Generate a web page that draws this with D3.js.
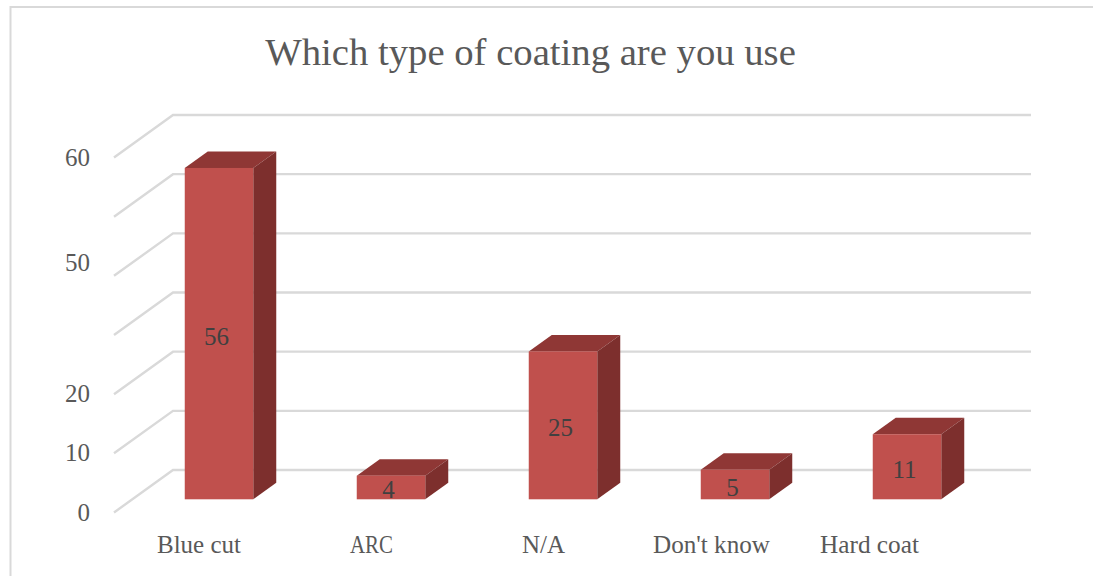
<!DOCTYPE html>
<html>
<head>
<meta charset="utf-8">
<script src="https://d3js.org/d3.v7.min.js"></script>
<style>
html,body{margin:0;padding:0;background:#fff;overflow:hidden}
text{font-family:"Liberation Serif",serif}
</style>
</head>
<body>
<script>
// Survey responses per coating type
const categories = ["Blue cut", "ARC", "N/A", "Don't know", "Hard coat"];
const counts = [56, 4, 25, 5, 11];
const gridValues = [0, 10, 20, 30, 40, 50, 60];
const axisLabels = ["60", "50", "20", "10", "0"];
const axisLabelLevels = [60, 42.2, 20, 10, 0];
const categoryLabelShift = [-1, -0.5, -0.5, -4.5, -18.5];
const categoryLabelWidth = [84, 43, 43, 117, 99];

const width = 1093, height = 576;
const depthX = 59, depthY = 42.5;       // floor depth of the 3D box
const barDepthX = 23, barDepthY = 16.5; // depth of each column
const barInsetX = 19, barInsetY = 13.2; // column offset from the front edge of the floor

const svg = d3.select("body").append("svg").attr("width", width).attr("height", height);

// Outer frame: only top and left edges fall inside the page
svg.append("path")
  .attr("d", d3.line()([[10.5, height], [10.5, 7], [width, 7]]))
  .attr("fill", "none").attr("stroke", "#D9D9D9").attr("stroke-width", 2);

const x = d3.scaleBand().domain(categories).range([114, 974]);
const y = d3.scaleLinear().domain([0, 60]).range([512.5, 157.5]);

// Walls: diagonal on the side wall, then horizontal on the back wall
svg.append("g").selectAll("path").data(gridValues).join("path")
  .attr("fill", "none").attr("stroke", "#D9D9D9").attr("stroke-width", 2.4)
  .attr("d", v => d3.line()([
    [x.range()[0], y(v)],
    [x.range()[0] + depthX, y(v) - depthY],
    [1031, y(v) - depthY]
  ]));

// Columns
const barWidth = 68.5;
const bars = svg.append("g").selectAll("g").data(categories).join("g");
const left = (c) => x(c) + x.bandwidth() / 2 + barInsetX - barWidth / 2;
const top_ = (i) => y(counts[i]) - barInsetY;
const bottom = y(0) - barInsetY;

bars.append("path").attr("fill", "#8F3735")
  .attr("d", (c, i) => d3.line()([
    [left(c), top_(i)],
    [left(c) + barDepthX, top_(i) - barDepthY],
    [left(c) + barWidth + barDepthX, top_(i) - barDepthY],
    [left(c) + barWidth, top_(i)]
  ]) + "Z");
bars.append("path").attr("fill", "#7D2F2D")
  .attr("d", (c, i) => d3.line()([
    [left(c) + barWidth, top_(i)],
    [left(c) + barWidth + barDepthX, top_(i) - barDepthY],
    [left(c) + barWidth + barDepthX, bottom - barDepthY],
    [left(c) + barWidth, bottom]
  ]) + "Z");
bars.append("rect").attr("fill", "#C0504D")
  .attr("x", c => left(c)).attr("width", barWidth)
  .attr("y", (c, i) => top_(i)).attr("height", (c, i) => bottom - top_(i));

// Value labels centred on each column's front face
bars.append("text")
  .attr("x", c => left(c) + barWidth / 2 - 2.5)
  .attr("y", (c, i) => (top_(i) + bottom) / 2 + 11)
  .attr("text-anchor", "middle").attr("font-size", 25).attr("fill", "#404040")
  .text((c, i) => counts[i]);

// Value axis labels
svg.append("g").selectAll("text").data(axisLabels).join("text")
  .attr("x", 90).attr("text-anchor", "end")
  .attr("y", (d, i) => y(axisLabelLevels[i]) + 8)
  .attr("font-size", 25).attr("fill", "#595959")
  .text(d => d);

// Category labels
svg.append("g").selectAll("text").data(categories).join("text")
  .attr("x", (c, i) => x(c) + x.bandwidth() / 2 + categoryLabelShift[i])
  .attr("y", 553).attr("text-anchor", "middle")
  .attr("font-size", 25).attr("fill", "#595959")
  .attr("textLength", (c, i) => categoryLabelWidth[i])
  .attr("lengthAdjust", "spacingAndGlyphs")
  .text(c => c);

// Title
svg.append("text").attr("x", 530.5).attr("y", 65).attr("text-anchor", "middle")
  .attr("font-size", 38.7).attr("fill", "#595959")
  .text("Which type of coating are you use");
</script>
</body>
</html>
